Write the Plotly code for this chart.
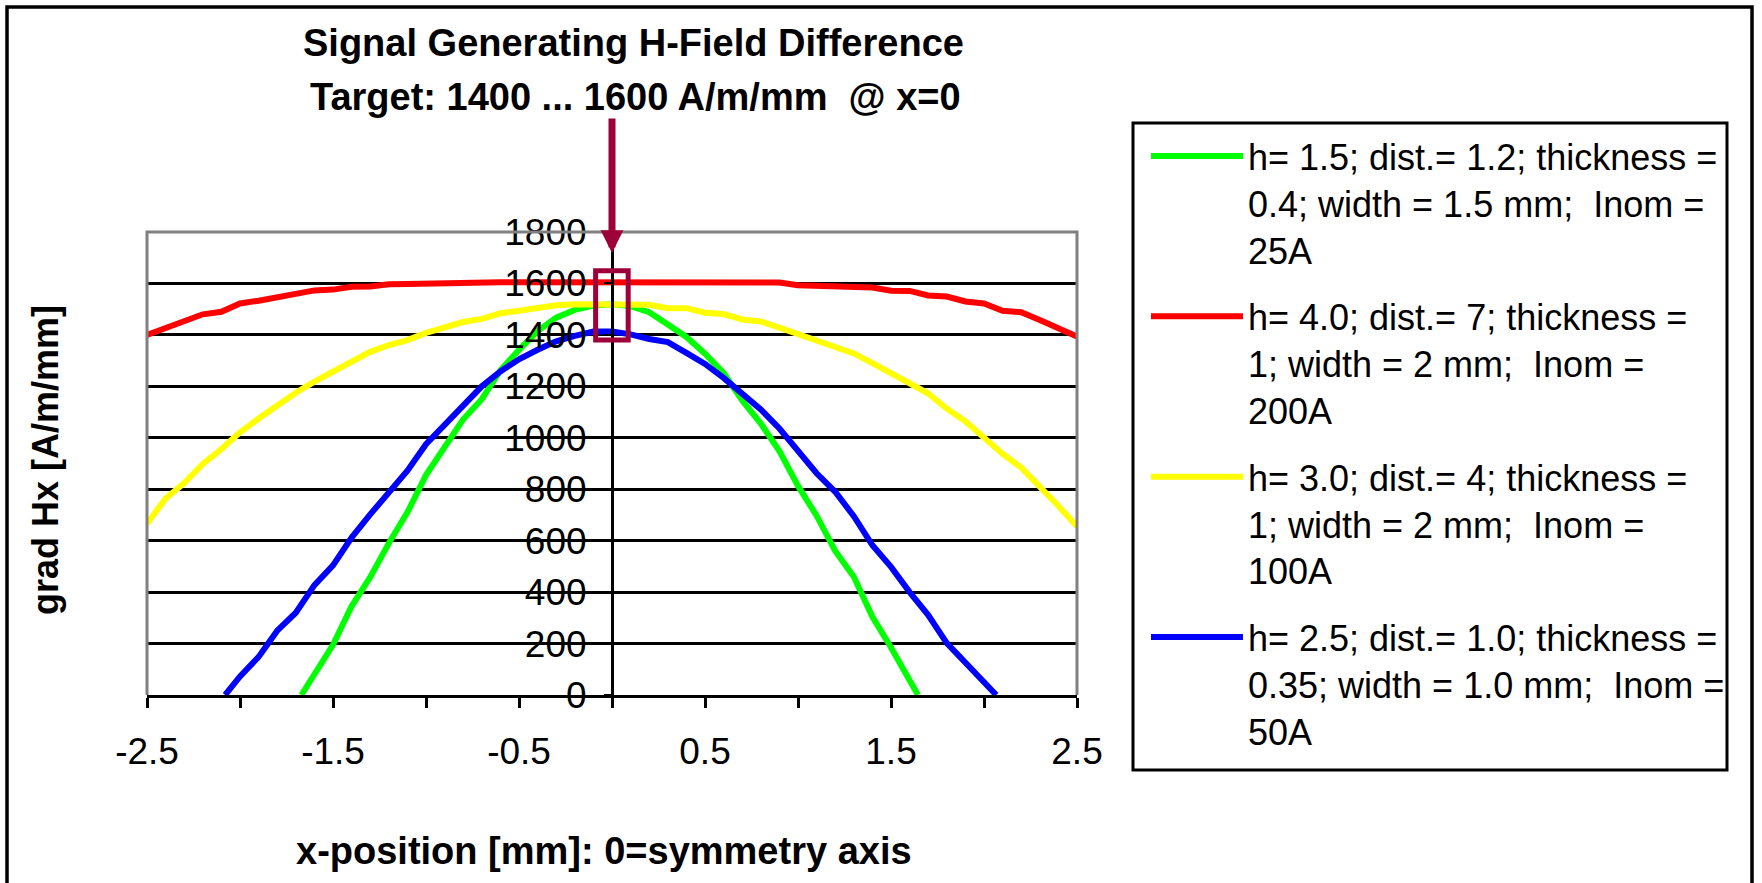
import plotly.graph_objects as go

# ---------------- data ----------------
X_FULL = [-2.5, -2.4, -2.3, -2.2, -2.1, -2.0, -1.9, -1.8, -1.7, -1.6, -1.5,
          -1.4, -1.3, -1.2, -1.1, -1.0, -0.9, -0.8, -0.7, -0.6, -0.5, -0.4,
          -0.3, -0.2, -0.1, 0.0, 0.1, 0.2, 0.3, 0.4, 0.5, 0.6, 0.7, 0.8,
          0.9, 1.0, 1.1, 1.2, 1.3, 1.4, 1.5, 1.6, 1.7, 1.8, 1.9, 2.0, 2.1,
          2.2, 2.3, 2.4, 2.5]

red_y = [1400, 1426, 1451, 1480, 1490, 1522, 1533, 1546, 1560, 1573, 1576,
         1587, 1588, 1597, 1598, 1600, 1604, 1605, 1605, 1605, 1605, 1605,
         1605, 1605, 1605, 1605, 1605, 1605, 1605, 1605, 1605, 1605, 1605, 1605,
         1604, 1593, 1590, 1590, 1586, 1584, 1572, 1571, 1553, 1549, 1530, 1522,
         1494, 1488, 1458, 1428, 1394]

yellow_y = [666, 764, 824, 898, 956, 1021, 1075, 1128, 1175, 1218, 1257,
            1300, 1334, 1360, 1380, 1408, 1430, 1450, 1462, 1484, 1494, 1504,
            1515, 1519, 1519, 1519, 1519, 1517, 1504, 1504, 1486, 1481, 1460,
            1452, 1428, 1402, 1376, 1350, 1328, 1290, 1248, 1212, 1172, 1113,
            1064, 1002, 937, 884, 812, 735, 655]

green_x = [-1.67, -1.6, -1.5, -1.4, -1.3, -1.2, -1.1, -1.0, -0.9, -0.8, -0.7,
           -0.6, -0.5, -0.4, -0.3, -0.2, -0.1, 0.0, 0.1, 0.2, 0.3, 0.4, 0.5,
           0.6, 0.7, 0.8, 0.9, 1.0, 1.1, 1.2, 1.3, 1.4, 1.5, 1.6, 1.645]
green_y = [0, 85, 195, 345, 458, 590, 710, 855, 962, 1072, 1150,
           1262, 1342, 1415, 1467, 1497, 1514, 1519, 1512, 1488, 1440, 1392, 1327,
           1252, 1145, 1055, 948, 813, 697, 560, 460, 304, 185, 58, 0]

blue_x = [-2.08, -2.0, -1.9, -1.8, -1.7, -1.6, -1.5, -1.4, -1.3, -1.2, -1.1,
          -1.0, -0.9, -0.8, -0.7, -0.6, -0.5, -0.4, -0.3, -0.2, -0.1, 0.0,
          0.1, 0.2, 0.3, 0.4, 0.5, 0.6, 0.7, 0.8, 0.9, 1.0, 1.1, 1.2, 1.3,
          1.4, 1.5, 1.6, 1.7, 1.8, 1.9, 2.0, 2.066]
blue_y = [0, 72, 148, 250, 320, 427, 504, 612, 702, 790, 872,
          975, 1050, 1128, 1200, 1258, 1305, 1342, 1375, 1396, 1413, 1413,
          1402, 1384, 1372, 1330, 1287, 1233, 1175, 1110, 1036, 950, 862, 790, 695,
          582, 498, 400, 311, 202, 123, 44, 0]

names = [
    "h= 1.5; dist.= 1.2; thickness =<br>0.4; width = 1.5 mm;&nbsp; Inom =<br>25A",
    "h= 4.0; dist.= 7; thickness =<br>1; width = 2 mm;&nbsp; Inom =<br>200A",
    "h= 3.0; dist.= 4; thickness =<br>1; width = 2 mm;&nbsp; Inom =<br>100A",
    "h= 2.5; dist.= 1.0; thickness =<br>0.35; width = 1.0 mm;&nbsp; Inom =<br>50A",
]
colors = ["#00FF00", "#FF0000", "#FFFF00", "#0000FF"]

x_ticks = [-2.5, -1.5, -0.5, 0.5, 1.5, 2.5]
x_minor_ticks = [-2.0, -1.0, 0.0, 1.0, 2.0]
y_ticks = [0, 200, 400, 600, 800, 1000, 1200, 1400, 1600, 1800]

title1 = "<b>Signal Generating H-Field Difference</b>"
title2 = "<b>Target: 1400 ... 1600 A/m/mm&nbsp; @ x=0</b>"
x_title = "<b>x-position [mm]: 0=symmetry axis</b>"
y_title = "<b>grad Hx [A/m/mm]</b>"

# ---------------- layout geometry ----------------
W, H = 1762, 883
ML, MR, MT, MB = 147, 685, 232, 188
PW, PH = W - ML - MR, H - MT - MB
FONT = "Liberation Sans, Arial, sans-serif"
MAROON = "#9E0039"


def px_x(px):
    return (px - ML) / PW


def px_y(py):
    return (H - MB - py) / PH


fig = go.Figure()
series = [(green_x, green_y), (X_FULL, red_y), (X_FULL, yellow_y), (blue_x, blue_y)]
for i, ((xs, ys), nm, col) in enumerate(zip(series, names, colors)):
    fig.add_trace(go.Scatter(x=xs, y=ys, mode="lines", name=nm,
                             legendgroup=f"g{i}",
                             line=dict(color=col, width=6),
                             cliponaxis=False))

fig.update_layout(
    width=W, height=H,
    margin=dict(l=ML, r=MR, t=MT, b=MB, autoexpand=False),
    paper_bgcolor="white", plot_bgcolor="white",
    font=dict(family=FONT, size=36, color="black"),
    showlegend=True,
    legend=dict(x=px_x(1146), y=px_y(126), xanchor="left", yanchor="top",
                xref="paper", yref="paper", maxheight=820,
                bgcolor="rgba(0,0,0,0)", borderwidth=0,
                font=dict(family=FONT, size=36, color="black"),
                valign="top", itemwidth=92, tracegroupgap=17,
                traceorder="grouped"),
    xaxis=dict(range=[-2.5, 2.5], tickmode="array", tickvals=x_ticks,
               ticktext=[str(v) for v in x_ticks],
               showgrid=False, zeroline=False,
               showline=True, linecolor="black", linewidth=3,
               ticks="outside", ticklen=10, tickwidth=3, tickcolor="black",
               ticklabelstandoff=12,
               minor=dict(tickvals=x_minor_ticks, ticks="outside", ticklen=10,
                          tickwidth=3, tickcolor="black", showgrid=False),
               tickfont=dict(family=FONT, size=37), automargin=False),
    yaxis=dict(range=[0, 1800], tickmode="array", tickvals=y_ticks,
               ticktext=[str(v) for v in y_ticks],
               showgrid=True, gridcolor="black", gridwidth=2.5,
               zeroline=True, zerolinecolor="black", zerolinewidth=3,
               anchor="free", position=0.5,
               showline=True, linecolor="black", linewidth=3,
               ticks="outside", ticklen=7, tickwidth=2, tickcolor="black",
               ticklabelstandoff=10,
               tickfont=dict(family=FONT, size=37), automargin=False),
)

shapes = [
    # grey plot border (left, top, right)
    dict(type="path", xref="paper", yref="paper", path="M 0,0 L 0,1 L 1,1 L 1,0",
         line=dict(color="#808080", width=3), layer="above"),
    # target box
    dict(type="rect", xref="x", yref="y", x0=-0.088, x1=0.087, y0=1380, y1=1649,
         line=dict(color=MAROON, width=5), fillcolor="rgba(0,0,0,0)", layer="above"),
    # legend frame
    dict(type="rect", xref="paper", yref="paper", x0=px_x(1133), x1=px_x(1727),
         y0=px_y(770), y1=px_y(123), line=dict(color="black", width=3),
         fillcolor="rgba(0,0,0,0)", layer="above"),
    # outer chart frame
    dict(type="rect", xref="paper", yref="paper", x0=px_x(7), x1=px_x(1752),
         y0=px_y(900), y1=px_y(7), line=dict(color="black", width=3.5),
         fillcolor="rgba(0,0,0,0)", layer="above"),
]
fig.update_layout(shapes=shapes)

annotations = [
    dict(text=title1, xref="paper", yref="paper", x=px_x(633), y=px_y(43),
         showarrow=False, xanchor="center", yanchor="middle",
         font=dict(family=FONT, size=38, color="black")),
    dict(text=title2, xref="paper", yref="paper", x=px_x(635), y=px_y(97),
         showarrow=False, xanchor="center", yanchor="middle",
         font=dict(family=FONT, size=38, color="black")),
    dict(text=x_title, xref="paper", yref="paper", x=px_x(604), y=px_y(851),
         showarrow=False, xanchor="center", yanchor="middle",
         font=dict(family=FONT, size=38, color="black")),
    dict(text=y_title, xref="paper", yref="paper", x=px_x(45), y=px_y(460),
         showarrow=False, xanchor="center", yanchor="middle", textangle=-90,
         font=dict(family=FONT, size=36, color="black")),
    # arrow pointing at the target box
    dict(text="", x=0, y=1718, xref="x", yref="y", showarrow=True,
         ax=0, ay=-136, axref="pixel", ayref="pixel",
         arrowhead=2, arrowsize=0.65, arrowwidth=7, arrowcolor=MAROON,
         standoff=0, startstandoff=0),
]
fig.update_layout(annotations=annotations)

fig.write_html("out.html")
